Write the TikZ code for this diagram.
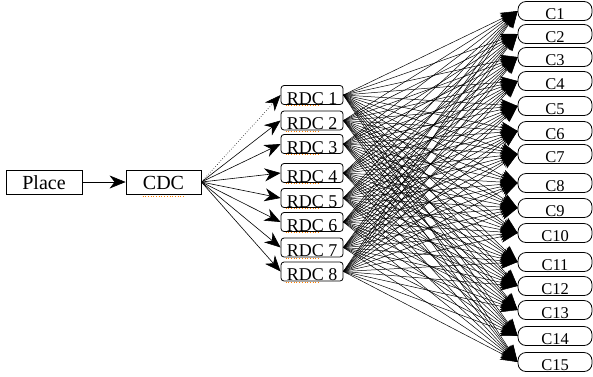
\documentclass[tikz,border=0pt]{standalone}
\usepackage{fontspec}
\setmainfont{Liberation Serif}
\usetikzlibrary{arrows.meta}
\begin{document}
\begin{tikzpicture}[x=1pt,y=-1pt,
 box/.style={draw, line width=0.8pt, inner sep=0pt, fill=white, text depth=0pt},
 plainbox/.style={box, minimum width=76pt, minimum height=24pt, text height=15pt, font=\fontsize{20}{20}\selectfont},
 rdc/.style={box, rounded corners=3pt, minimum width=62pt, minimum height=19pt, text height=18pt, font=\fontsize{18}{18}\selectfont},
 cust/.style={box, rounded corners=8pt, minimum width=74pt, minimum height=19pt, text height=16.5pt, font=\fontsize{16.5}{16.5}\selectfont},
 bigarrow/.style={-{Stealth[length=16pt,width=13pt,inset=5pt]}, line width=0.6pt},
 fanarrow/.style={-{Stealth[length=17pt,width=12pt,inset=4pt]}, line width=0.5pt},
 squig/.style={draw=orange, line width=0.7pt, dotted}]
\useasboundingbox (0,0) rectangle (593,376);
\node[plainbox] (place) at (44,182) {Place};
\node[plainbox, minimum width=75pt] (cdc) at (163.5,182) {CDC};
\foreach \i/\y in {1/95,2/120.5,3/144,4/173,5/198,6/222,7/247.5,8/271.5}
  \node[rdc] (r\i) at (312,\y) {RDC\ \i};
\foreach \j/\y in {1/11,2/34,3/57,4/81,5/106,6/131,7/154,8/183,9/208,10/233,11/262,12/286,13/310,14/336,15/362}
  \node[cust] (c\j) at (555,\y) {C\j};
\draw[bigarrow] (place) -- (cdc);
\draw[bigarrow, dotted] (cdc.east) -- (r1.west);
\foreach \i in {2,...,8}
  \draw[bigarrow] (cdc.east) -- (r\i.west);
\foreach \i in {1,...,8}
  \foreach \j in {1,...,15}
    \draw[fanarrow] (r\i.east) -- (c\j.west);
\draw[squig] ([xshift=-21pt,yshift=-1.5pt]cdc.south) -- ([xshift=21pt,yshift=-1.5pt]cdc.south);
\foreach \i in {1,...,8}
  \draw[squig] ([xshift=5pt,yshift=-0.5pt]r\i.south west) -- ([xshift=39pt,yshift=-0.5pt]r\i.south west);
\end{tikzpicture}
\end{document}
